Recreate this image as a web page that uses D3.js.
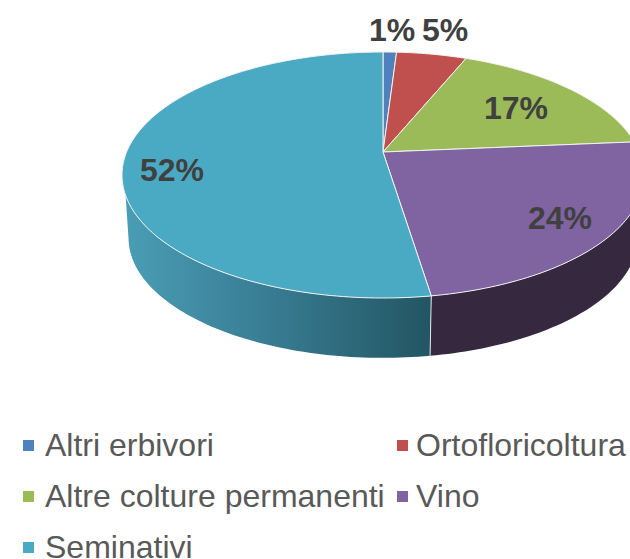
<!DOCTYPE html>
<html>
<head>
<meta charset="utf-8">
<script src="https://cdn.jsdelivr.net/npm/d3@7"></script>
<style>
  html, body { margin: 0; padding: 0; background: #fff; overflow: hidden; }
  svg { display: block; }
</style>
</head>
<body>
<svg id="chart" width="630" height="559"></svg>
<script>
// quote per categoria
const categories = ['Altri erbivori', 'Ortofloricoltura', 'Altre colture permanenti', 'Vino', 'Seminativi'];
const shares = [1.0, 5.2, 17.4, 23.9, 52.4];
const labels = ['1%', '5%', '17%', '24%', '52%'];
const colors = ['#4f81bd', '#c0504d', '#9bbb59', '#8064a2', '#4aaac4'];

const W = 630, H = 559;
const svg = d3.select('#chart').attr('viewBox', `0 0 ${W} ${H}`);

// torta in prospettiva: centro, raggio e fuga
const CX = 383, CY = 152, R = 256.4, VY = 118.7, K = 0.187;
const DROP = 61, SHRINK = 0.975;

function rimTop(a) {
  const u = Math.sin(a), v = -Math.cos(a), d = 1 - K * v;
  return [CX + R * u / d, CY + VY * v / d];
}
function rimBottom(a) {
  const p = rimTop(a);
  return [CX + (p[0] - CX) * SHRINK, CY + (p[1] - CY) * SHRINK + DROP + 2.5];
}
function arcPoints(fn, a0, a1) {
  const n = Math.max(2, Math.ceil(Math.abs(a1 - a0) / 0.02));
  return d3.range(n + 1).map(i => fn(a0 + (a1 - a0) * i / n));
}

const arcs = d3.pie().sort(null).value(d => d)(shares);
const line = d3.line();
const rad = d => d * Math.PI / 180;

const defs = svg.append('defs');
const grad = defs.append('linearGradient').attr('id', 'sideTeal')
  .attr('gradientUnits', 'userSpaceOnUse')
  .attr('x1', 125).attr('x2', 431).attr('y1', 0).attr('y2', 0);
grad.append('stop').attr('offset', 0).attr('stop-color', '#4a9db6');
grad.append('stop').attr('offset', 0.5).attr('stop-color', '#377a90');
grad.append('stop').attr('offset', 1).attr('stop-color', '#235562');

const gSide = svg.append('g');

// fianco Vino: dal bordo destro fino allo spigolo frontale
const vino = arcs[3];
gSide.append('path')
  .attr('d', line(arcPoints(rimTop, vino.startAngle, vino.endAngle)
    .concat(arcPoints(rimBottom, vino.endAngle, vino.startAngle))) + 'Z')
  .attr('fill', '#35283f');

// fianco Seminativi: si chiude sulla sagoma a sinistra, senza tacca
const semi = arcs[4];
gSide.append('path')
  .attr('d', line(arcPoints(rimTop, semi.startAngle, rad(250))
    .concat(arcPoints(rimBottom, rad(259), semi.startAngle))) + 'Z')
  .attr('fill', 'url(#sideTeal)');

// spigolo tra i due fianchi
gSide.append('path')
  .attr('d', line([rimTop(semi.startAngle), rimBottom(semi.startAngle)]))
  .attr('stroke', '#fff').attr('stroke-width', 1).attr('opacity', 0.85);

// facce superiori
svg.append('g').selectAll('path')
  .data(arcs).join('path')
  .attr('d', a => line([[CX, CY]].concat(arcPoints(rimTop, a.startAngle, a.endAngle))) + 'Z')
  .attr('fill', (a, i) => colors[i])
  .attr('stroke', '#f2f2f2').attr('stroke-width', 1).attr('stroke-linejoin', 'round');

// etichette percentuali
const labelPos = [[392, 30], [445, 30], [516, 108], [560, 218], [172, 170]];
svg.append('g').selectAll('text')
  .data(labels).join('text')
  .text(d => d)
  .attr('x', (d, i) => labelPos[i][0])
  .attr('y', (d, i) => labelPos[i][1])
  .attr('dy', '0.35em')
  .attr('text-anchor', 'middle')
  .attr('font-family', '"Liberation Sans", Arial, sans-serif')
  .attr('font-weight', 700)
  .attr('font-size', 32)
  .attr('fill', '#404040');

// legenda
const legendPos = [[23, 456], [397, 456], [23, 507], [397, 507], [23, 558]];
const gLeg = svg.append('g').selectAll('g')
  .data(categories).join('g')
  .attr('transform', (d, i) => `translate(${legendPos[i][0]},${legendPos[i][1]})`);
gLeg.append('rect')
  .attr('x', 0).attr('y', -16).attr('width', 11).attr('height', 11)
  .attr('fill', (d, i) => colors[i]);
gLeg.append('text')
  .text(d => d)
  .attr('x', (d, i) => i % 2 ? 19 : 22)
  .attr('y', 0)
  .attr('font-family', '"Liberation Sans", Arial, sans-serif')
  .attr('font-size', 32)
  .attr('fill', '#595959');
</script>
</body>
</html>
